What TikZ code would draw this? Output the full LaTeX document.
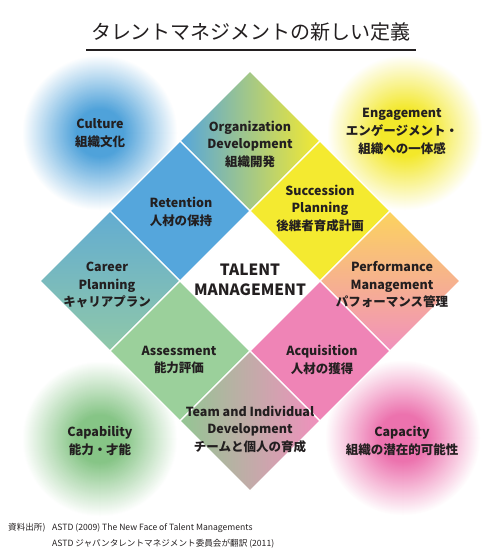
\documentclass[tikz,border=0pt]{standalone}
\usepackage{fontspec}
\setmainfont{Noto Sans CJK JP}
\definecolor{ink}{HTML}{231F20}
\definecolor{cblue}{HTML}{55A6DC}
\definecolor{cyellow}{HTML}{F4EA30}
\definecolor{cgreen}{HTML}{9BD09B}
\definecolor{cpink}{HTML}{EF84B6}
\definecolor{corange}{HTML}{FCD35E}
\definecolor{cteal}{HTML}{62ACD2}
\definecolor{cmint}{HTML}{90C8A8}
\definecolor{glowb}{HTML}{4FA2DA}
\definecolor{glowy}{HTML}{F3E82A}
\definecolor{glowg}{HTML}{86C586}
\definecolor{glowp}{HTML}{EC72AE}

\tikzset{
  cell/.style={draw=white, line width=1.3pt, line join=miter},
  orgdev/.style={left color=cblue, right color=cyellow},
  succ/.style={fill=cyellow},
  perf/.style={top color=corange, bottom color=cpink!90!white},
  reten/.style={fill=cblue},
  career/.style={top color=cteal, bottom color=cmint},
  assess/.style={fill=cgreen},
  acqui/.style={fill=cpink},
  teamdev/.style={left color=cgreen!95!black, right color=cpink!90!white},
  lab/.style={text=ink, align=center, inner sep=0pt, font=\fontsize{12.5}{17.5}\selectfont\bfseries},
  glow/.style={text=ink, align=center, inner sep=0pt, font=\fontsize{12.5}{18}\selectfont\bfseries},
  src/.style={text=ink, anchor=west, inner sep=0pt, font=\fontsize{8.6}{10}\selectfont},
}

\begin{document}
\begin{tikzpicture}[x=1pt,y=-1pt]
	\useasboundingbox (0,0) rectangle (501,550);

	% title
	\node[text=ink, inner sep=0pt, font=\fontsize{20}{24}\selectfont] (title) at (251,32) {タレントマネジメントの新しい定義};
	\draw[ink, line width=2pt] (86,50) -- (416,50);

	% glow circles
	\foreach \gx/\gy/\gc in {100/133/glowb, 405/133/glowy, 100/439/glowg, 403/438/glowp} {
	    \foreach \r in {78,...,1} {
	        \pgfmathsetmacro\p{min(100,100*(78-\r)/54)}
	        \fill[\gc!\p!white] (\gx,\gy) circle (\r pt);
	    }
	}

	% diamond cells
	\foreach \cx/\cy/\sty in {250/141/orgdev, 320/211/succ, 390/281/perf, 180/211/reten,
	                          110/281/career, 180/351/assess, 320/351/acqui, 250/421/teamdev} {
	    \path[cell,\sty] (\cx,\cy-70) -- (\cx+70,\cy) -- (\cx,\cy+70) -- (\cx-70,\cy) -- cycle;
	}

	% cell labels
	\node[lab] (orgdev-t) at (250,144) {Organization\\Development\\組織開発};
	\node[lab] (succ-t) at (320,208) {Succession\\Planning\\後継者育成計画};
	\node[lab] (perf-t) at (392,285) {Performance\\Management\\パフォーマンス管理};
	\node[lab] (reten-t) at (181,212) {Retention\\人材の保持};
	\node[lab] (career-t) at (107,285) {Career\\Planning\\キャリアプラン};
	\node[lab] (assess-t) at (179,360) {Assessment\\能力評価};
	\node[lab] (acqui-t) at (322,360) {Acquisition\\人材の獲得};
	\node[lab] (teamdev-t) at (250,429) {Team and Individual\\Development\\チームと個人の育成};
	\node[lab, font=\fontsize{15.5}{20.5}\selectfont\bfseries] (talent) at (250,280) {TALENT\\MANAGEMENT};

	% circle labels
	\node[glow] (culture) at (100,133) {Culture\\組織文化};
	\node[glow] (engage) at (402,131) {Engagement\\エンゲージメント・\\組織への一体感};
	\node[glow] (capab) at (100,441) {Capability\\能力・才能};
	\node[glow] (capac) at (402,441) {Capacity\\組織の潜在的可能性};

	% source
	\node[src] (srclab) at (8,528) {資料出所)};
	\node[src] (src1) at (52,528) {ASTD (2009) The New Face of Talent Managements};
	\node[src] (src2) at (52,544) {ASTD ジャパンタレントマネジメント委員会が翻訳 (2011)};
\end{tikzpicture}
\end{document}
